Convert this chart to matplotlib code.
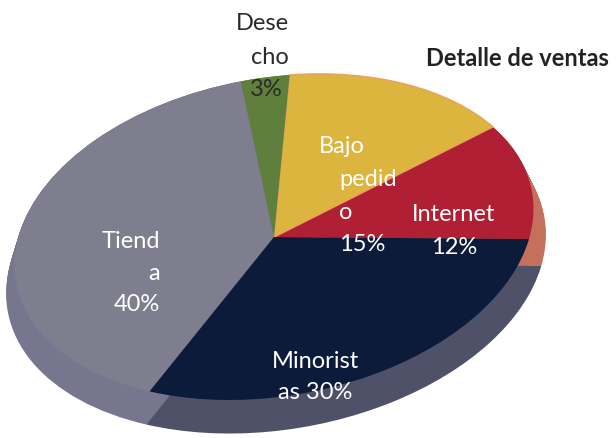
import matplotlib
matplotlib.use("Agg")
import matplotlib.pyplot as plt
from matplotlib.transforms import Affine2D

plt.rcParams['font.family'] = ['Lato', 'DejaVu Sans']

categorias = ["Internet", "Bajo pedido", "Desecho", "Tienda", "Minoristas"]
valores = [12, 15, 3, 40, 30]
colores = ["#b01f33", "#dcb53f", "#5f7f3c", "#7e7e8e", "#0d1b3a"]
laterales = ["#c4705c", "#c09a40", "#55703c", "#76768e", "#4f5169"]

fig = plt.figure(figsize=(6.16, 4.39), dpi=100)
ax = fig.add_axes([0, 0, 1, 1])

# the chart is a sheared 3d pie, so every layer goes through the same matrix
def capa(cols, dx, dy, escala=1.0):
    wedges, _ = ax.pie(valores, colors=cols, startangle=0, counterclock=True)
    m = Affine2D.from_values(255 * escala, 2 * escala, 48 * escala, -163 * escala,
                             274 + dx, 238 + dy)
    for w in wedges:
        w.set_transform(m + ax.transData)
    return wedges

n = 30
for i in range(n + 1):
    f = i / n
    capa(laterales, 2 * f, 27 * f, 1.0 + 0.04 * f)

tapa = capa(colores, 0, 0)
tapa[1].set_edgecolor("#e8a45a")
tapa[1].set_linewidth(1.2)

ax.set_aspect("auto")
ax.set_xlim(0, 616)
ax.set_ylim(439, 0)
ax.axis("off")

blanco = "white"
oscuro = "#2a2a2a"
fs = 17

for txt, y in zip(["Dese", "cho"], [24, 58]):
    ax.text(289, y, txt, color=oscuro, fontsize=fs, ha="right", va="center")
ax.text(250, 89, "3%", color=oscuro, fontsize=fs, ha="left", va="center")

ax.text(319, 147, "Bajo", color=blanco, fontsize=fs, ha="left", va="center")
for txt, y in zip(["pedid", "o", "15%"], [180, 213, 245]):
    ax.text(339, y, txt, color=blanco, fontsize=fs, ha="left", va="center")

ax.text(454, 215, "Internet", color=blanco, fontsize=fs, ha="center", va="center")
ax.text(454, 248, "12%", color=blanco, fontsize=fs, ha="center", va="center")

for txt, y in zip(["Tiend", "a", "40%"], [242, 274, 305]):
    ax.text(160, y, txt, color=blanco, fontsize=fs, ha="right", va="center")

ax.text(315, 362, "Minorist", color=blanco, fontsize=fs, ha="center", va="center")
ax.text(315, 393, "as 30%", color=blanco, fontsize=fs, ha="center", va="center")

ax.text(517, 58, "Detalle de ventas", color="#222222", fontsize=17,
        fontweight="bold", ha="center", va="center")

fig.savefig("out.png", dpi=100)
